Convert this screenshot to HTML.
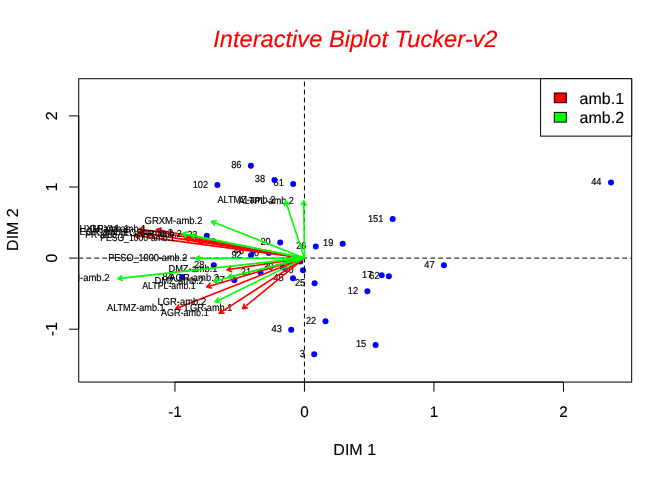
<!DOCTYPE html>
<html lang="en"><head><meta charset="utf-8"><title>Interactive Biplot Tucker-v2</title>
<style>html,body{margin:0;padding:0;background:#fff}svg{display:block}text{font-family:"Liberation Sans",Arial,Helvetica,sans-serif;fill:#000;stroke:#000;stroke-width:.14px;text-rendering:geometricPrecision}.s text,text.s{stroke-width:.18px}</style></head><body>
<svg width="672" height="480" viewBox="0 0 672 480">
<rect width="672" height="480" fill="#fff"/>
<defs><clipPath id="pc"><rect x="78.72" y="78.72" width="552.96" height="303.36"/></clipPath></defs>
<text x="355.4" y="46.7" text-anchor="middle" font-size="23.65" font-style="italic" style="fill:#ff0000;stroke:#ff0000">Interactive Biplot Tucker-v2</text>
<g clip-path="url(#pc)" class="s">
<g>
<text transform="translate(231.23,168.00) scale(0.9150,1)" font-size="10.1">86</text>
<text transform="translate(254.82,182.00) scale(0.9150,1)" font-size="10.1">38</text>
<text transform="translate(273.57,186.00) scale(0.9150,1)" font-size="10.1">61</text>
<text transform="translate(192.65,188.00) scale(0.9150,1)" font-size="10.1">102</text>
<text transform="translate(591.19,185.00) scale(0.9150,1)" font-size="10.1">44</text>
<text transform="translate(367.93,222.00) scale(0.9150,1)" font-size="10.1">151</text>
<text transform="translate(323.06,246.00) scale(0.9150,1)" font-size="10.1">19</text>
<text transform="translate(296.13,249.00) scale(0.9150,1)" font-size="10.1">26</text>
<text transform="translate(260.48,245.00) scale(0.9150,1)" font-size="10.1">20</text>
<text transform="translate(424.29,268.00) scale(0.9150,1)" font-size="10.1">47</text>
<text transform="translate(362.09,278.00) scale(0.9150,1)" font-size="10.1">17</text>
<text transform="translate(369.29,279.00) scale(0.9150,1)" font-size="10.1">62</text>
<text transform="translate(347.79,294.00) scale(0.9150,1)" font-size="10.1">12</text>
<text transform="translate(294.91,286.00) scale(0.9150,1)" font-size="10.1">25</text>
<text transform="translate(305.89,324.00) scale(0.9150,1)" font-size="10.1">22</text>
<text transform="translate(271.53,332.00) scale(0.9150,1)" font-size="10.1">43</text>
<text transform="translate(299.67,357.00) scale(0.9150,1)" font-size="10.1">3</text>
<text transform="translate(355.91,347.00) scale(0.9150,1)" font-size="10.1">15</text>
<text transform="translate(194.12,268.00) scale(0.9150,1)" font-size="10.1">28</text>
<text transform="translate(231.39,258.00) scale(0.9150,1)" font-size="10.1">92</text>
<text transform="translate(248.88,256.00) scale(0.9150,1)" font-size="10.1">10</text>
<text transform="translate(233.53,254.00) scale(0.9150,1)" font-size="10.1">46</text>
<text transform="translate(280.63,264.00) scale(0.9150,1)" font-size="10.1">16</text>
<text transform="translate(263.18,270.00) scale(0.9150,1)" font-size="10.1">30</text>
<text transform="translate(240.87,275.00) scale(0.9150,1)" font-size="10.1">21</text>
<text transform="translate(283.28,273.00) scale(0.9150,1)" font-size="10.1">40</text>
<text transform="translate(273.31,281.00) scale(0.9150,1)" font-size="10.1">45</text>
<text transform="translate(214.69,283.00) scale(0.9150,1)" font-size="10.1">27</text>
<text transform="translate(187.13,238.00) scale(0.9150,1)" font-size="10.1">33</text>
<text transform="translate(193.72,244.00) scale(0.9150,1)" font-size="10.1">58</text>
<text transform="translate(162.39,280.00) scale(0.9150,1)" font-size="10.1">84</text>
</g>
<g fill="#0000ff">
<circle cx="250.9" cy="165.8" r="3"/>
<circle cx="274.5" cy="180.1" r="3"/>
<circle cx="293.2" cy="184.0" r="3"/>
<circle cx="217.4" cy="184.9" r="3"/>
<circle cx="611.0" cy="182.4" r="3"/>
<circle cx="392.7" cy="219.0" r="3"/>
<circle cx="342.7" cy="243.8" r="3"/>
<circle cx="315.8" cy="246.4" r="3"/>
<circle cx="280.2" cy="242.4" r="3"/>
<circle cx="443.9" cy="265.2" r="3"/>
<circle cx="381.7" cy="275.2" r="3"/>
<circle cx="388.9" cy="276.2" r="3"/>
<circle cx="367.4" cy="291.2" r="3"/>
<circle cx="314.6" cy="283.3" r="3"/>
<circle cx="325.5" cy="321.3" r="3"/>
<circle cx="291.2" cy="329.7" r="3"/>
<circle cx="314.2" cy="354.3" r="3"/>
<circle cx="375.6" cy="345.0" r="3"/>
<circle cx="213.8" cy="265.3" r="3"/>
<circle cx="251.0" cy="255.2" r="3"/>
<circle cx="268.6" cy="253.1" r="3"/>
<circle cx="253.2" cy="251.0" r="3"/>
<circle cx="300.3" cy="261.4" r="3"/>
<circle cx="282.9" cy="267.5" r="3"/>
<circle cx="260.5" cy="272.4" r="3"/>
<circle cx="303.0" cy="270.2" r="3"/>
<circle cx="293.0" cy="278.2" r="3"/>
<circle cx="234.3" cy="280.2" r="3"/>
<circle cx="206.8" cy="235.7" r="3"/>
<circle cx="213.4" cy="241.2" r="3"/>
<circle cx="182.2" cy="277.0" r="3"/>
</g>
<path d="M78.72 258.1H631.68" stroke="#000" stroke-width="1" stroke-dasharray="4 4" stroke-linecap="round" fill="none"/>
<path d="M304.45 382.08V78.72" stroke-linecap="round" stroke="#000" stroke-width="1" stroke-dasharray="4 4" fill="none"/>
<path d="M304.45 258.1L139.4 228.8M143.1 231.9L139.4 228.8L143.9 227.2" stroke="#ff0000" stroke-width="1.6" fill="none" stroke-linecap="round" stroke-linejoin="round"/>
<path d="M304.45 258.1L156.5 229.5M160.1 232.6L156.5 229.5L161.0 227.9" stroke="#ff0000" stroke-width="1.6" fill="none" stroke-linecap="round" stroke-linejoin="round"/>
<path d="M304.45 258.1L138.6 232.4M142.3 235.4L138.6 232.4L143.1 230.7" stroke="#ff0000" stroke-width="1.6" fill="none" stroke-linecap="round" stroke-linejoin="round"/>
<path d="M304.45 258.1L134.3 235.4M138.1 238.3L134.3 235.4L138.7 233.6" stroke="#ff0000" stroke-width="1.6" fill="none" stroke-linecap="round" stroke-linejoin="round"/>
<path d="M304.45 258.1L185.0 238.3M188.7 241.3L185.0 238.3L189.5 236.6" stroke="#ff0000" stroke-width="1.6" fill="none" stroke-linecap="round" stroke-linejoin="round"/>
<text transform="translate(79.54,232.00) scale(0.9228,1)" font-size="10.1">HXM-amb.1</text>
<text transform="translate(89.84,232.00) scale(0.9138,1)" font-size="10.1">GRXM-amb.1</text>
<text transform="translate(79.54,235.00) scale(0.9173,1)" font-size="10.1">EGR-amb.1</text>
<text transform="translate(85.19,238.00) scale(0.8563,1)" font-size="10.1">PR-amb.1</text>
<text transform="translate(100.30,241.00) scale(0.8509,1)" font-size="10.1">PESO_1000-amb.1</text>
<path d="M304.45 258.1L227.0 269.8M231.5 271.6L227.0 269.8L230.8 266.8" stroke="#ff0000" stroke-width="1.6" fill="none" stroke-linecap="round" stroke-linejoin="round"/>
<text transform="translate(168.44,272.00) scale(0.9194,1)" font-size="10.1">DMZ-amb.1</text>
<path d="M304.45 258.1L206.8 286.9M211.5 288.0L206.8 286.9L210.1 283.4" stroke="#ff0000" stroke-width="1.6" fill="none" stroke-linecap="round" stroke-linejoin="round"/>
<text transform="translate(142.28,289.00) scale(0.8673,1)" font-size="10.1">ALTPL-amb.1</text>
<path d="M304.45 258.1L175.7 308.7M180.4 309.4L175.7 308.7L178.7 304.9" stroke="#ff0000" stroke-width="1.6" fill="none" stroke-linecap="round" stroke-linejoin="round"/>
<text transform="translate(107.08,311.00) scale(0.9027,1)" font-size="10.1">ALTMZ-amb.1</text>
<path d="M304.45 258.1L242.5 308.7M247.2 307.9L242.5 308.7L244.2 304.2" stroke="#ff0000" stroke-width="1.6" fill="none" stroke-linecap="round" stroke-linejoin="round"/>
<text transform="translate(184.95,311.00) scale(0.9080,1)" font-size="10.1">LGR-amb.1</text>
<path d="M304.45 258.1L219.2 313.3M224.0 313.1L219.2 313.3L221.4 309.0" stroke="#ff0000" stroke-width="1.6" fill="none" stroke-linecap="round" stroke-linejoin="round"/>
<text transform="translate(160.88,316.00) scale(0.8976,1)" font-size="10.1">AGR-amb.1</text>
<path d="M304.45 258.1L303.7 200.7M301.4 204.9L303.7 200.7L306.2 204.8" stroke="#00ff00" stroke-width="1.6" fill="none" stroke-linecap="round" stroke-linejoin="round"/>
<text transform="translate(238.58,204.00) scale(0.8983,1)" font-size="10.1">ALTPL-amb.2</text>
<path d="M304.45 258.1L285.5 200.9M284.5 205.6L285.5 200.9L289.1 204.1" stroke="#00ff00" stroke-width="1.6" fill="none" stroke-linecap="round" stroke-linejoin="round"/>
<text transform="translate(217.38,203.00) scale(0.9076,1)" font-size="10.1">ALTMZ-amb.2</text>
<path d="M304.45 258.1L211.6 221.4M214.6 225.2L211.6 221.4L216.3 220.7" stroke="#00ff00" stroke-width="1.6" fill="none" stroke-linecap="round" stroke-linejoin="round"/>
<text transform="translate(144.52,224.00) scale(0.9404,1)" font-size="10.1">GRXM-amb.2</text>
<path d="M304.45 258.1L182.2 233.6M185.8 236.8L182.2 233.6L186.7 232.1" stroke="#00ff00" stroke-width="1.6" fill="none" stroke-linecap="round" stroke-linejoin="round"/>
<text transform="translate(123.02,236.00) scale(0.9368,1)" font-size="10.1">EGR-amb.2</text>
<path d="M304.45 258.1L190.8 235.3M194.4 238.5L190.8 235.3L195.3 233.8" stroke="#00ff00" stroke-width="1.6" fill="none" stroke-linecap="round" stroke-linejoin="round"/>
<text transform="translate(141.98,237.00) scale(0.8725,1)" font-size="10.1">PR-amb.2</text>
<path d="M304.45 258.1L195.5 258.4M199.7 260.8L195.5 258.4L199.7 256.0" stroke="#00ff00" stroke-width="1.6" fill="none" stroke-linecap="round" stroke-linejoin="round"/>
<text transform="translate(108.15,261.00) scale(0.9032,1)" font-size="10.1">PESO_1000-amb.2</text>
<path d="M304.45 258.1L117.9 278.6M122.3 280.5L117.9 278.6L121.8 275.8" stroke="#00ff00" stroke-width="1.6" fill="none" stroke-linecap="round" stroke-linejoin="round"/>
<text transform="translate(58.93,281.00) scale(0.9400,1)" font-size="10.1">HXM-amb.2</text>
<path d="M304.45 258.1L227.7 277.3M232.3 278.6L227.7 277.3L231.2 274.0" stroke="#00ff00" stroke-width="1.6" fill="none" stroke-linecap="round" stroke-linejoin="round"/>
<text transform="translate(169.28,281.00) scale(0.9338,1)" font-size="10.1">AGR-amb.2</text>
<path d="M304.45 258.1L213.6 281.4M218.2 282.7L213.6 281.4L217.0 278.0" stroke="#00ff00" stroke-width="1.6" fill="none" stroke-linecap="round" stroke-linejoin="round"/>
<text transform="translate(154.43,284.00) scale(0.9312,1)" font-size="10.1">DMZ-amb.2</text>
<path d="M304.45 258.1L215.3 302.0M220.1 302.3L215.3 302.0L218.0 298.0" stroke="#00ff00" stroke-width="1.6" fill="none" stroke-linecap="round" stroke-linejoin="round"/>
<text transform="translate(157.53,305.00) scale(0.9319,1)" font-size="10.1">LGR-amb.2</text>
</g>
<rect x="78.72" y="78.72" width="552.96" height="303.36" fill="none" stroke="#000" stroke-width="1"/>
<path d="M174.95 382.08H563.45" stroke="#000" fill="none"/>
<path d="M174.95 382.08v9.6" stroke="#000" fill="none"/>
<text x="174.95" y="416.7" font-size="15.3" text-anchor="middle">-1</text>
<path d="M304.45 382.08v9.6" stroke="#000" fill="none"/>
<text x="304.45" y="416.7" font-size="15.3" text-anchor="middle">0</text>
<path d="M433.95 382.08v9.6" stroke="#000" fill="none"/>
<text x="433.95" y="416.7" font-size="15.3" text-anchor="middle">1</text>
<path d="M563.45 382.08v9.6" stroke="#000" fill="none"/>
<text x="563.45" y="416.7" font-size="15.3" text-anchor="middle">2</text>
<path d="M78.72 329.20V115.90" stroke="#000" fill="none"/>
<path d="M78.72 329.20h-9.6" stroke="#000" fill="none"/>
<text transform="translate(56.5,329.20) rotate(-90)" font-size="16" text-anchor="middle">-1</text>
<path d="M78.72 258.10h-9.6" stroke="#000" fill="none"/>
<text transform="translate(56.5,258.10) rotate(-90)" font-size="16" text-anchor="middle">0</text>
<path d="M78.72 187.00h-9.6" stroke="#000" fill="none"/>
<text transform="translate(56.5,187.00) rotate(-90)" font-size="16" text-anchor="middle">1</text>
<path d="M78.72 115.90h-9.6" stroke="#000" fill="none"/>
<text transform="translate(56.5,115.90) rotate(-90)" font-size="16" text-anchor="middle">2</text>
<text x="354.7" y="454.8" font-size="16" text-anchor="middle">DIM 1</text>
<text transform="translate(17.8,229.6) rotate(-90)" font-size="16" text-anchor="middle">DIM 2</text>
<rect x="540.6" y="78.72" width="91.08" height="57.4" fill="#fff" stroke="#000"/>
<rect x="554.3" y="93" width="12" height="9.7" fill="#ff0000" stroke="#000"/>
<rect x="554.3" y="112.4" width="12" height="9.7" fill="#00ff00" stroke="#000"/>
<text x="579.6" y="103.6" font-size="16">amb.1</text>
<text x="579.6" y="122.8" font-size="16">amb.2</text>
</svg></body></html>
